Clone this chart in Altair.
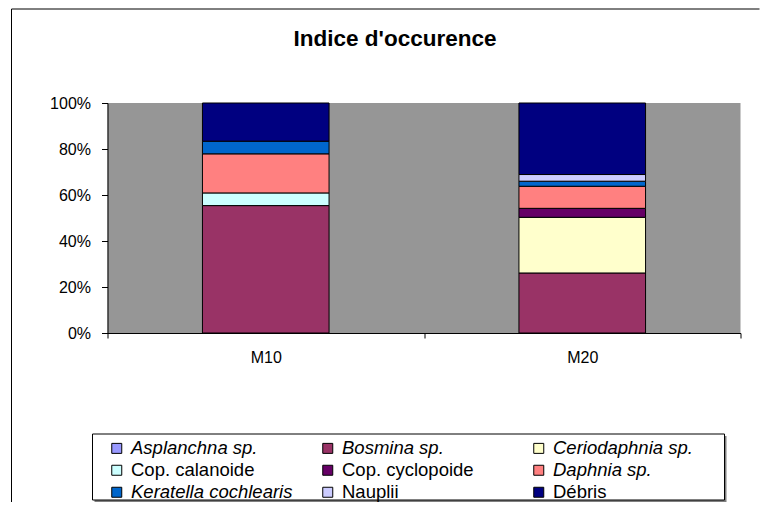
import altair as alt
import pandas as pd

title_text = "Indice d'occurence"
sites = ["M10", "M20"]
species = ["Asplanchna sp.", "Bosmina sp.", "Ceriodaphnia sp.", "Cop. calanoide",
           "Cop. cyclopoide", "Daphnia sp.", "Keratella cochlearis", "Nauplii", "Débris"]
m10 = [0, 55.4, 0, 5.5, 0, 17.0, 5.5, 0, 16.6]
m20 = [0, 26.1, 24.2, 0, 3.9, 9.6, 2.2, 2.9, 31.1]
colors = ["#9999FF", "#993366", "#FFFFCC", "#CCFFFF", "#660066",
          "#FF8080", "#0066CC", "#CCCCFF", "#000080"]
y_ticks = [0, 0.2, 0.4, 0.6, 0.8, 1.0]
normal_labels = ["Cop. calanoide", "Cop. cyclopoide", "Nauplii", "Débris"]

rows = []
for site, vals in zip(sites, [m10, m20]):
    for i, (sp, v) in enumerate(zip(species, vals)):
        if v > 0:
            rows.append({"site": site, "species": sp, "value": v, "order": i})
df = pd.DataFrame(rows)

FONT = "Liberation Sans"
italic_expr = ("indexof([" + ",".join("'%s'" % s for s in normal_labels)
               + "], datum.value) >= 0 ? 'normal' : 'italic'")

bars = alt.Chart(df).mark_bar(stroke="black", strokeWidth=1, width={"band": 0.4}).encode(
    x=alt.X("site:N", sort=sites, title=None,
            scale=alt.Scale(paddingInner=0, paddingOuter=0),
            axis=alt.Axis(labelAngle=0, labelFontSize=16, labelFont=FONT, labelColor="black",
                          domainColor="black", tickColor="black", tickSize=5,
                          tickBand="extent", labelPadding=11, grid=False)),
    y=alt.Y("value:Q", stack="normalize", title=None,
            scale=alt.Scale(domain=[0, 1]),
            axis=alt.Axis(values=y_ticks, format=".0%", labelFontSize=16, labelFont=FONT,
                          labelColor="black", domainColor="black", tickColor="black",
                          tickSize=6, labelPadding=11, grid=False)),
    color=alt.Color("species:N", scale=alt.Scale(domain=species, range=colors),
                    legend=alt.Legend(title=None, orient="none", legendX=0, legendY=336,
                                      direction="horizontal",
                                      columns=3, gridAlign="all", columnPadding=26,
                                      rowPadding=3, symbolType="square", symbolSize=100,
                                      symbolStrokeColor="black", symbolStrokeWidth=1,
                                      symbolOpacity=1, labelFont=FONT, labelFontSize=18.5,
                                      labelColor="black", labelOffset=5, labelLimit=0,
                                      padding=0,
                                      labelFontStyle={"expr": italic_expr})),
    order=alt.Order("order:Q", sort="ascending"),
)

one = pd.DataFrame({"k": [0]})
shadow = alt.Chart(one).mark_rect(fill="#808080").encode(
    x=alt.value(-13), x2=alt.value(619), y=alt.value(333), y2=alt.value(399))
box = alt.Chart(one).mark_rect(fill="white", stroke="black", strokeWidth=1).encode(
    x=alt.value(-15), x2=alt.value(617), y=alt.value(331), y2=alt.value(397))
border_top = alt.Chart(one).mark_rule(color="black", strokeWidth=1).encode(
    x=alt.value(-96), x2=alt.value(652), y=alt.value(-94))
border_left = alt.Chart(one).mark_rule(color="black", strokeWidth=1).encode(
    x=alt.value(-96), y=alt.value(-94), y2=alt.value(399))
title = alt.Chart(pd.DataFrame({"t": [title_text]})).mark_text(
    font=FONT, fontSize=22.5, fontWeight="bold", align="center",
    baseline="alphabetic", color="black").encode(
    text="t:N", x=alt.value(287.5), y=alt.value(-57))

chart = alt.layer(shadow, box, border_top, border_left, title, bars).properties(
    width=633, height=230,
    padding={"left": 2.5, "top": 0, "right": 0, "bottom": 0},
    background="white",
).configure_view(fill="#969696", stroke=None)

chart.save("out.html", embed_options={"renderer": "svg", "actions": False})
